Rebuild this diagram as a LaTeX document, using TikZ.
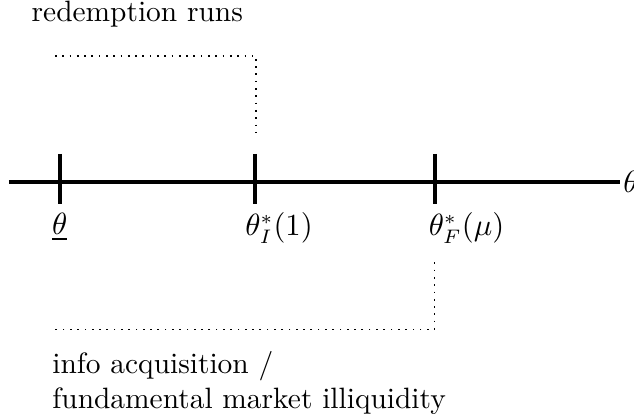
\documentclass[tikz,border=0pt]{standalone}
\usepackage{amsmath,amssymb}
\usetikzlibrary{positioning,calc}

\begin{document}
\begin{tikzpicture}[
  font=\fontsize{10.5}{12.5}\selectfont,
  axisline/.style={line width=1.4pt},
  tickmark/.style={line width=1.4pt},
  link/.style={dotted, line width=0.6pt},
  lbl/.style={anchor=north west, inner sep=0pt, align=left},
]
\useasboundingbox (0,0) rectangle (7.95,-5.257);
% axis and thresholds
\coordinate (start) at (0.11,-2.28);
\coordinate (end) at (7.78,-2.28);
\coordinate (low) at (0.75,-2.28);
\coordinate (run) at (3.20,-2.28);
\coordinate (fund) at (5.46,-2.28);
\draw[axisline] (start) -- (end) node[right, inner sep=0.3pt] (thetaaxis) {$\theta$};
\foreach \c in {low,run,fund}
  \draw[tickmark] ($(\c)+(0,0.35)$) -- ($(\c)+(0,-0.28)$);
\node[anchor=north, inner sep=0pt] (lowlbl) at ($(low)+(0,-0.39)$) {$\underline{\theta}$};
\node[lbl] (runlbl) at ($(run)+(-0.13,-0.38)$) {$\theta^*_I(1)$};
\node[lbl] (fundlbl) at ($(fund)+(-0.09,-0.38)$) {$\theta^*_F(\mu)$};
% regions
\node[lbl] (runs) at (0.39,-0.01) {redemption runs};
\coordinate (runs-end) at (0.69,-0.70);
\coordinate (run-top) at (3.21,-1.73);
\draw[link] (runs-end) -| (run-top);
\node[lbl] (illiq) at (0.65,-4.40) {info acquisition /\\fundamental market illiquidity};
\coordinate (fund-bot) at (5.45,-3.29);
\coordinate (illiq-end) at (0.68,-4.13);
\draw[link] (fund-bot) |- (illiq-end);
\end{tikzpicture}
\end{document}
